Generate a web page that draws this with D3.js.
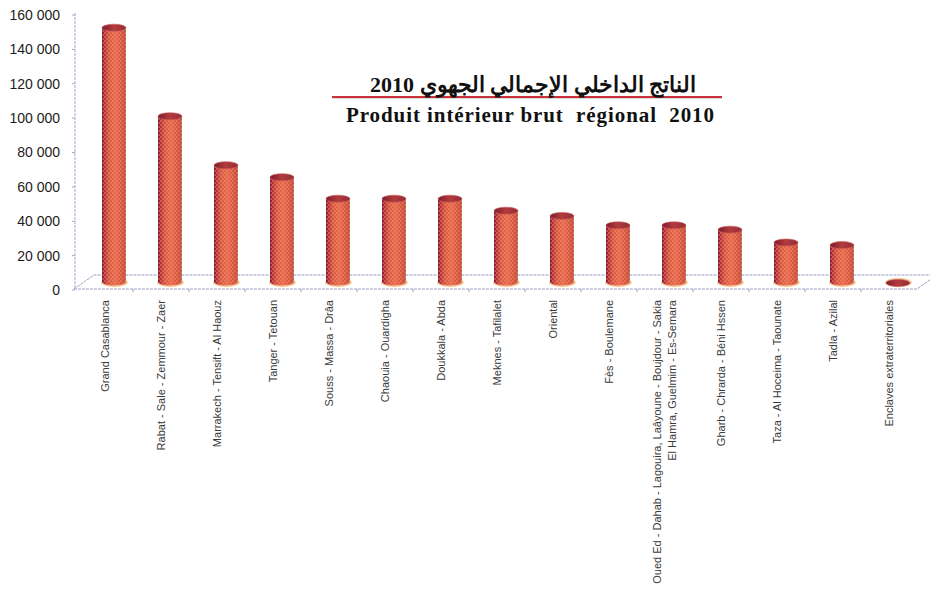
<!DOCTYPE html>
<html>
<head>
<meta charset="utf-8">
<script src="https://cdn.jsdelivr.net/npm/d3@7"></script>
<style>
  body { margin: 0; background: #fff; }
  svg { display: block; }
</style>
</head>
<body>
<svg id="chart" width="930" height="591"></svg>
<script>
// Regional GDP 2010, million MAD
const regions = [
  "Grand Casablanca",
  "Rabat - Sale - Zemmour - Zaer",
  "Marrakech - Tensift - Al Haouz",
  "Tanger - Tetouan",
  "Souss - Massa - Drâa",
  "Chaouia - Ouardigha",
  "Doukkala - Abda",
  "Meknes - Tafilalet",
  "Oriental",
  "Fès - Boulemane",
  "Oued Ed - Dahab - Lagouira, Laâyoune - Boujdour - Sakia\nEl Hamra, Guelmim - Es-Semara",
  "Gharb - Chrarda - Béni Hssen",
  "Taza - Al Hoceima - Taounate",
  "Tadla - Azilal",
  "Enclaves extraterritoriales"
];
const pib = [150000, 98500, 70000, 63000, 50500, 50500, 50500, 43500, 40500, 35000, 35000, 32500, 25000, 23500, 1500];
const yTicks = [0, 20000, 40000, 60000, 80000, 100000, 120000, 140000, 160000];
const titleAr = "الناتج الداخلي الإجمالي الجهوي 2010";
const titleFr = "Produit intérieur brut  régional  2010";

const svg = d3.select("#chart");
const defs = svg.append("defs");

// oblique depth of the floor
const depth = { dx: 20, dy: -14 };
const barShift = { dx: 9, dy: -7 };

const x = d3.scaleBand().domain(regions).range([77, 917]).paddingInner(0);
const y = d3.scaleLinear().domain([0, 160000]).range([290, 15]);

const locale = d3.formatLocale({ decimal: ",", thousands: "\u00a0", grouping: [3], currency: ["", ""] });
const fmt = locale.format(",d");

// cylinder shading
const side = defs.append("linearGradient").attr("id", "side").attr("x1", 0).attr("x2", 1);
[[0, "#74142a"], [0.1, "#b0303a"], [0.3, "#dc5843"], [0.55, "#e86a4e"], [0.8, "#d9553f"], [0.95, "#bb4a3c"], [1, "#d07858"]]
  .forEach(([o, c]) => side.append("stop").attr("offset", o).attr("stop-color", c));
const cap = defs.append("linearGradient").attr("id", "cap").attr("x1", 0).attr("x2", 1);
[[0, "#7e1c2e"], [0.5, "#b23c3e"], [1, "#922c36"]]
  .forEach(([o, c]) => cap.append("stop").attr("offset", o).attr("stop-color", c));
const dots = defs.append("pattern").attr("id", "dots").attr("patternUnits", "userSpaceOnUse")
  .attr("width", 4).attr("height", 4);
dots.append("circle").attr("cx", 1).attr("cy", 1).attr("r", 0.9).attr("fill", "#f29a78").attr("opacity", 0.55);
dots.append("circle").attr("cx", 3).attr("cy", 3).attr("r", 0.9).attr("fill", "#f29a78").attr("opacity", 0.55);

// floor
const x0 = 74, x1 = x.range()[1], yF = y(0) - 1;
const floor = svg.append("g").attr("fill", "none").attr("stroke", "#9a9ec4").attr("stroke-width", 1);
floor.append("path")
  .attr("d", `M${x0},${yF}L${x1},${yF}L${x1 + depth.dx},${yF + depth.dy}L${x0 + depth.dx},${yF + depth.dy}Z`)
  .attr("stroke-dasharray", "3,1");
floor.selectAll("line.tick").data(regions.slice(1)).join("line")
  .attr("x1", d => x(d)).attr("x2", d => x(d))
  .attr("y1", yF).attr("y2", yF + 3);

// value axis
const axisG = svg.append("g");
axisG.append("line").attr("x1", 75).attr("x2", 75).attr("y1", y(160000) - 2).attr("y2", yF)
  .attr("stroke", "#a4a8cf").attr("stroke-dasharray", "3,1");
axisG.selectAll("line.t").data(yTicks).join("line")
  .attr("x1", 72).attr("x2", 75).attr("y1", d => y(d)).attr("y2", d => y(d))
  .attr("stroke", "#a4a8cf");
axisG.selectAll("text").data(yTicks).join("text")
  .attr("x", 60).attr("y", d => y(d)).attr("dy", "0.35em")
  .attr("text-anchor", "end")
  .attr("font-family", "Liberation Sans, Arial, sans-serif").attr("font-size", 14)
  .attr("fill", "#1c1c1c")
  .text(d => fmt(d));

// cylinders
const bw = 24, rx = bw / 2, ry = 3.5;
const data = regions.map((r, i) => ({ r, v: pib[i] }));
const bars = svg.append("g").selectAll("g").data(data).join("g")
  .attr("transform", d => `translate(${x(d.r) + x.bandwidth() / 2 + barShift.dx},${y(0) + barShift.dy - 1})`);
bars.each(function (d) {
  const g = d3.select(this);
  const h = y(0) - y(d.v);
  const top = -h + ry;
  g.append("ellipse").attr("cx", 0.5).attr("cy", 0.5).attr("rx", rx + 1.5).attr("ry", ry + 1.2)
    .attr("fill", "#f6c48c").attr("opacity", 0.8);
  const body = `M${-rx},${top}L${-rx},0A${rx},${ry} 0 0 0 ${rx},0L${rx},${top}Z`;
  g.append("path").attr("d", body).attr("fill", "url(#side)");
  g.append("path").attr("d", body).attr("fill", "url(#dots)");
  g.append("ellipse").attr("cx", 0).attr("cy", top).attr("rx", rx).attr("ry", ry)
    .attr("fill", "url(#cap)").attr("stroke", "#c45a58").attr("stroke-width", 0.6);
});

// category labels
const labels = svg.append("g")
  .attr("font-family", "Liberation Sans, Arial, sans-serif").attr("font-size", 11).attr("fill", "#3a3a3a");
labels.selectAll("text").data(regions).join("text")
  .attr("transform", d => `translate(${x(d) + x.bandwidth() / 2},300) rotate(-90)`)
  .attr("text-anchor", "end")
  .each(function (d) {
    const lines = d.split("\n");
    const t = d3.select(this);
    const lh = 15;
    lines.forEach((ln, k) => {
      t.append("tspan").attr("x", 0)
        .attr("y", (k - (lines.length - 1) / 2) * lh)
        .attr("dy", "0.35em").text(ln);
    });
  });

// title
const title = svg.append("g");
title.append("line").attr("x1", 332).attr("x2", 722).attr("y1", 98).attr("y2", 98)
  .attr("stroke", "#b9b0b0").attr("stroke-width", 1);
title.append("line").attr("x1", 332).attr("x2", 722).attr("y1", 97).attr("y2", 97)
  .attr("stroke", "#c8323a").attr("stroke-width", 2);
title.append("text").attr("x", 533).attr("y", 92).attr("text-anchor", "middle")
  .attr("direction", "rtl")
  .attr("font-family", "Liberation Serif, DejaVu Serif, serif").attr("font-weight", "bold")
  .attr("font-size", 22).attr("fill", "#111").text(titleAr);
title.append("text").attr("x", 346).attr("y", 122)
  .attr("font-family", "Liberation Serif, Times New Roman, serif").attr("font-weight", "bold")
  .attr("font-size", 21).attr("fill", "#111")
  .attr("textLength", 368).attr("lengthAdjust", "spacing")
  .style("white-space", "pre").text(titleFr);
</script>
</body>
</html>
